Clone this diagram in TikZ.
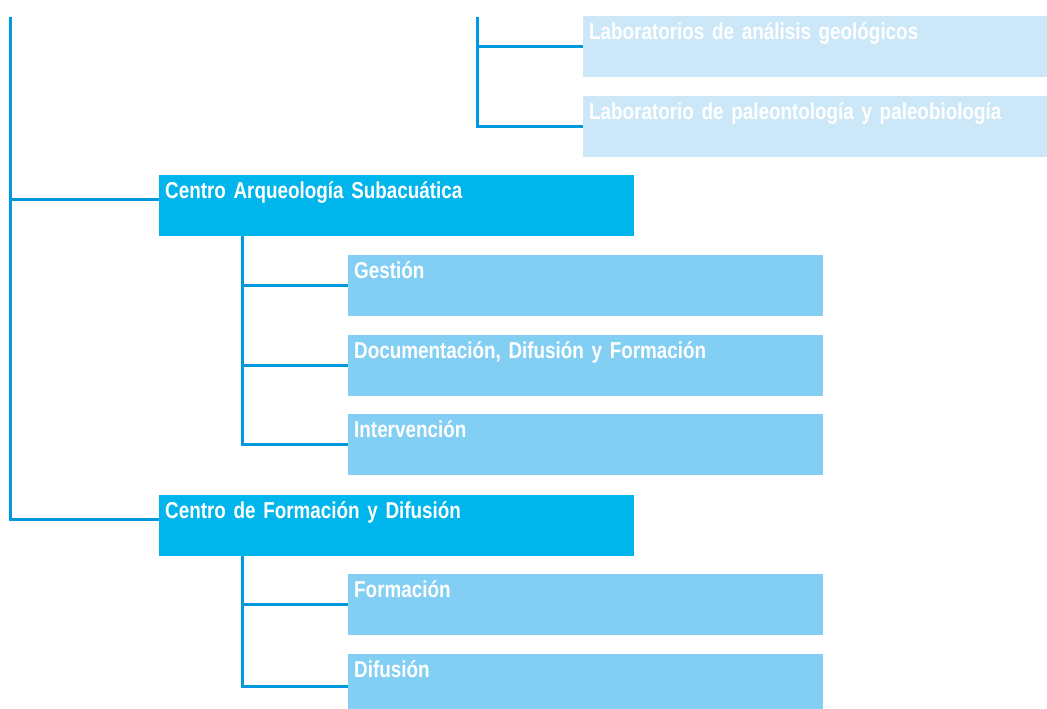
\documentclass[tikz,border=0pt]{standalone}
\usepackage{fontspec}
\setmainfont{Liberation Sans}[FakeStretch=0.82]
\definecolor{linkblue}{RGB}{0,153,221}
\definecolor{centreblue}{RGB}{0,181,236}
\definecolor{unitblue}{RGB}{131,207,244}
\definecolor{labblue}{RGB}{204,232,248}
\newcommand\boxfont{\fontsize{23}{26}\selectfont\bfseries\spaceskip=4pt plus 1pt\relax}
\tikzset{
  box/.style={anchor=north west, inner xsep=6pt, inner ysep=0pt, text height=23pt, text depth=38pt,
    align=left, text=white, font=\boxfont},
  centre/.style={box, fill=centreblue, text width=463pt},
  unit/.style={box, fill=unitblue, text width=463pt},
  lab/.style={box, fill=labblue, text width=452pt},
  link/.style={draw=linkblue, line width=3pt}
}

\begin{document}
\begin{tikzpicture}[x=1pt,y=1pt,yscale=-1,xscale=1]
\useasboundingbox (0,0) rectangle (1047,709);

%Labs
\node[lab] (geo) at (583,16) {Laboratorios de análisis geológicos};
\node[lab] (paleo) at (583,96) {Laboratorio de paleontología y paleobiología};

%Centro Arqueologia Subacuatica
\node[centre] (cas) at (159,175) {Centro Arqueología Subacuática};
\node[unit] (ges) at (348,255) {Gestión};
\node[unit] (doc) at (348,335) {Documentación, Difusión y Formación};
\node[unit] (inter) at (348,414) {Intervención};

%Centro de Formacion y Difusion
\node[centre] (cfd) at (159,495) {Centro de Formación y Difusión};
\node[unit] (form) at (348,574) {Formación};
\node[unit] (dif) at (348,654) {Difusión};

%Trunks
\coordinate (maintop) at (10,17);
\coordinate (labtop) at (477,17);
\coordinate (casroot) at ([xshift=83pt]cas.south west);
\coordinate (cfdroot) at ([xshift=83pt]cfd.south west);
\coordinate (casin) at ([yshift=-6.5pt]cas.west);
\coordinate (cfdin) at ([yshift=-6.5pt]cfd.west);
\coordinate (difin) at ([yshift=32pt]dif.north west);

%Connectors
\draw[link] (labtop) |- (paleo.west);
\draw[link] (labtop |- geo.west) -- (geo.west);
\draw[link] (maintop) |- (cfdin);
\draw[link] (maintop |- casin) -- (casin);
\draw[link] (casroot) |- (inter.west);
\draw[link] (casroot |- ges.west) -- (ges.west);
\draw[link] (casroot |- doc.west) -- (doc.west);
\draw[link] (cfdroot) |- (difin);
\draw[link] (cfdroot |- form.west) -- (form.west);

\end{tikzpicture}
\end{document}
